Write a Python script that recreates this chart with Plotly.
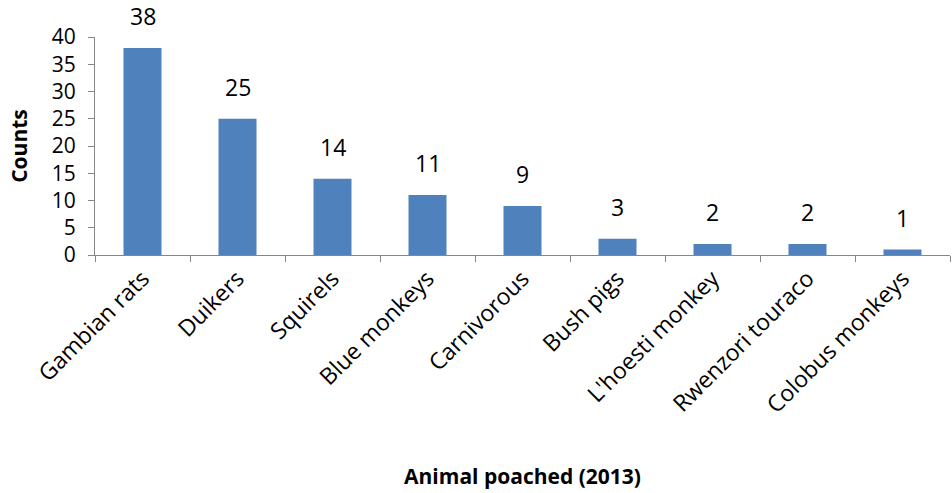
import plotly.graph_objects as go

categories = ["Gambian rats", "Duikers", "Squirels", "Blue monkeys", "Carnivorous",
              "Bush pigs", "L'hoesti monkey", "Rwenzori touraco", "Colobus monkeys"]
counts = [38, 25, 14, 11, 9, 3, 2, 2, 1]

font_family = "Open Sans, Liberation Sans, sans-serif"

fig = go.Figure(go.Bar(
    x=categories, y=counts,
    marker=dict(color="#4F81BD", line=dict(width=0)),
    width=0.4,
))

for c, v in zip(categories, counts):
    fig.add_annotation(x=c, y=v, text=str(v), showarrow=False, yanchor="middle",
                       yshift=32, font=dict(size=23, color="#000000", family=font_family))

fig.update_layout(
    width=952, height=493,
    margin=dict(l=95, r=2, t=37, b=238),
    plot_bgcolor="white", paper_bgcolor="white",
    font=dict(family=font_family, size=23, color="#000000"),
    showlegend=False,
)
fig.update_xaxes(
    tickangle=-45, showline=True, linecolor="#868686", linewidth=1,
    ticks="outside", ticklen=6, tickcolor="#868686", tickson="boundaries",
    showgrid=False, tickfont=dict(size=23),
    title=dict(text="<b>Animal poached (2013)</b>", font=dict(size=21), standoff=50),
)
fig.update_yaxes(
    range=[0, 40], dtick=5, showline=True, linecolor="#868686", linewidth=1,
    ticks="outside", ticklen=6, tickcolor="#868686", showgrid=False, zeroline=False,
    tickfont=dict(size=21), ticklabelstandoff=8,
    title=dict(text="<b>Counts</b>", font=dict(size=21), standoff=18),
)

fig.write_html("out.html")
